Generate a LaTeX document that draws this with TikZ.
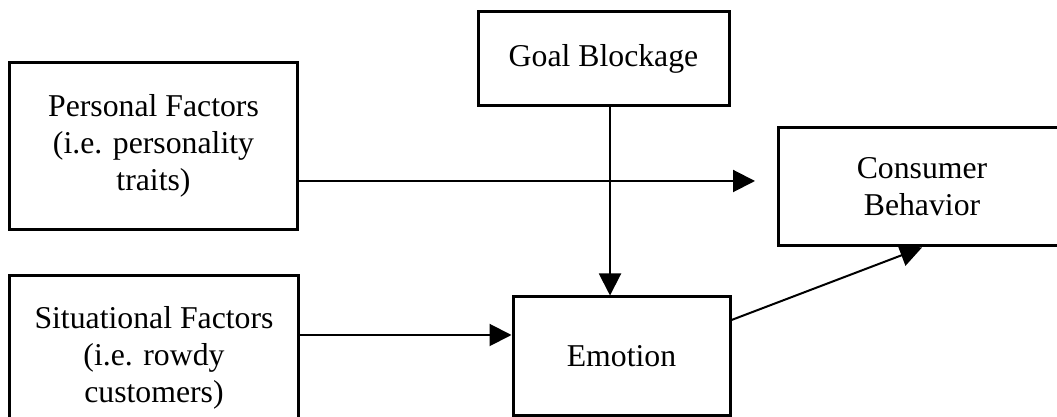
\documentclass[tikz,border=0pt]{standalone}
\usepackage{fontspec}
\setmainfont{Liberation Serif}
\usetikzlibrary{arrows.meta,positioning,calc}

\begin{document}
\begin{tikzpicture}[x=0.4pt,y=-0.4pt,
  box/.style={draw,line width=1.2pt,fill=white,align=center,inner sep=0pt,font=\fontsize{12.7}{14.8}\selectfont},
  link/.style={line width=0.8pt,-{Triangle[length=8.8pt,width=8.8pt]}}]
  \useasboundingbox (0,0) rectangle (1057,417);
  \node[box,minimum width=114.8pt,minimum height=66.8pt] (personal) at (153.5,146) {Personal Factors\\(i.e. personality\\traits)};
  \node[box,minimum width=115.2pt,minimum height=65.6pt] (situational) at (154,358) {Situational Factors\\(i.e. rowdy\\customers)};
  \node[box,minimum width=100.4pt,minimum height=37.6pt] (goal) at (603.5,59) {Goal Blockage};
  \node[box,minimum width=86.8pt,minimum height=47.2pt] (emotion) at (621.5,356) {Emotion};
  \node[box,minimum width=115.2pt,minimum height=47.2pt] (consumer) at (922,187) {Consumer\\Behavior};
  \coordinate (tipP) at (755,181);
  \draw[link] (personal.east |- tipP) -- (tipP);
  \draw[link] (situational.east |- 0,335) -- (emotion.west |- 0,335);
  \draw[link] (goal.south -| 610,0) -- (emotion.north -| 610,0);
  \draw[link] (emotion.east |- 0,320) -- (consumer.south);
\end{tikzpicture}
\end{document}
